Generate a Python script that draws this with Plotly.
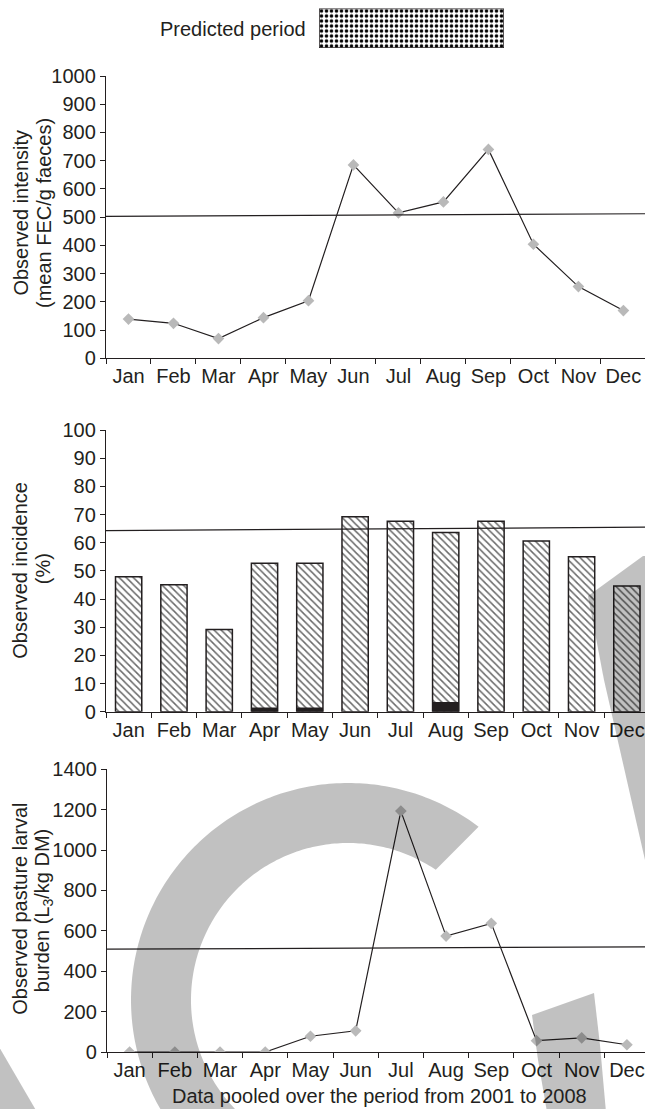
import numpy as np
import plotly.graph_objects as go

# ---- data -------------------------------------------------------------
months = ["Jan", "Feb", "Mar", "Apr", "May", "Jun",
          "Jul", "Aug", "Sep", "Oct", "Nov", "Dec"]

# mean faecal egg count (FEC/g faeces)
intensity = [139, 124, 70, 144, 204, 685, 515, 554, 740, 404, 254, 169]
intensity_threshold = [503, 512]          # left end, right end

# incidence (%) : total bar height and the solid bottom part
incidence = [47.9, 45.1, 29.2, 52.7, 52.7, 69.2, 67.6, 63.6, 67.6, 60.6, 55.0, 44.6]
incidence_solid = [0, 0, 0, 1.5, 1.5, 0, 0, 3.4, 0, 0, 0, 0]
incidence_threshold = [64.3, 65.5]

# pasture larval burden (L3/kg DM)
larval = [0, 0, 0, 0, 78, 105, 1193, 574, 637, 56, 70, 36]
larval_threshold = [509, 521]

legend_label = "Predicted period"
x_title = "Data pooled over the period from 2001 to 2008"

# ---- page geometry ----------------------------------------------------
W, H = 645, 1109
INK = "#231f20"
FONT = "Liberation Sans, Arial, Helvetica, sans-serif"
FS = 20


def fx(px):
    return px / W


def fy(py):
    return 1 - py / H


def pt(x, y):
    return f"{fx(x):.5f},{fy(y):.5f}"


fig = go.Figure()

line_style = dict(color=INK, width=1.2)
marker_style = dict(symbol="diamond", size=9, color="#b9b9b9", line=dict(width=0))

fig.add_trace(go.Scatter(x=months, y=intensity, mode="lines+markers",
                         line=line_style, marker=marker_style,
                         xaxis="x", yaxis="y", showlegend=False))

fig.add_trace(go.Bar(x=months, y=incidence, xaxis="x2", yaxis="y2",
                     marker=dict(color="white",
                                 line=dict(color=INK, width=1.5),
                                 pattern=dict(shape="\\", fillmode="replace",
                                              fgcolor="#6a6a6a", bgcolor="white",
                                              size=5, solidity=0.3)),
                     showlegend=False))
fig.add_trace(go.Bar(x=months, y=incidence_solid, xaxis="x2", yaxis="y2",
                     marker=dict(color=INK, line=dict(width=0)),
                     showlegend=False))

fig.add_trace(go.Scatter(x=months, y=larval, mode="lines+markers",
                         line=line_style, marker=marker_style,
                         xaxis="x3", yaxis="y3", showlegend=False))

# legend swatch for the predicted period
fig.add_trace(go.Bar(x=[0], y=[1], width=[1], xaxis="x4", yaxis="y4",
                     name=legend_label, showlegend=False,
                     marker=dict(color="white",
                                 line=dict(color=INK, width=1.5),
                                 pattern=dict(shape=".", fillmode="replace",
                                              fgcolor="black", bgcolor="white",
                                              size=5, solidity=0.4))))

tickfont = dict(family=FONT, size=FS, color=INK)


def xaxis_cfg(domain, anchor, rng):
    return dict(domain=domain, anchor=anchor, type="category",
                categoryorder="array", categoryarray=months,
                range=rng, showline=True, linecolor=INK, linewidth=1.3,
                ticks="outside", tickson="boundaries", ticklen=5,
                tickcolor=INK, tickwidth=1.2, showgrid=False, zeroline=False,
                tickangle=0, tickfont=tickfont, fixedrange=True)


def yaxis_cfg(domain, anchor, rng, dtick):
    return dict(domain=domain, anchor=anchor, range=rng, dtick=dtick, tick0=0,
                showline=True, linecolor=INK, linewidth=1.3,
                ticks="outside", ticklen=5, tickcolor=INK, tickwidth=1.2,
                showgrid=False, zeroline=False, tickfont=tickfont,
                fixedrange=True)


fig.update_layout(
    width=W, height=H,
    margin=dict(l=0, r=0, t=0, b=0, pad=0, autoexpand=False),
    paper_bgcolor="white", plot_bgcolor="rgba(0,0,0,0)",
    barmode="overlay", bargap=0.42,
    font=dict(family=FONT, size=FS, color=INK),
    xaxis=xaxis_cfg([fx(106), 1], "y", [-0.5, 11.48]),
    yaxis=yaxis_cfg([fy(358.3), fy(76)], "x", [0, 1000], 100),
    xaxis2=xaxis_cfg([fx(106), 1], "y2", [-0.5, 11.4]),
    yaxis2=yaxis_cfg([fy(711.7), fy(430)], "x2", [0, 100], 10),
    xaxis3=xaxis_cfg([fx(107), 1], "y3", [-0.5, 11.4]),
    yaxis3=yaxis_cfg([fy(1052), fy(769.3)], "x3", [0, 1400], 200),
    xaxis4=dict(domain=[fx(319), fx(504)], anchor="y4", range=[-0.5, 0.5],
                visible=False, fixedrange=True),
    yaxis4=dict(domain=[fy(48), fy(8.5)], anchor="x4", range=[0, 1],
                visible=False, fixedrange=True),
)

# threshold lines
shapes = []
for yref, xref, thr in (("y", "x domain", intensity_threshold),
                        ("y2", "x2 domain", incidence_threshold),
                        ("y3", "x3 domain", larval_threshold)):
    shapes.append(dict(type="line", xref=xref, yref=yref,
                       x0=0, x1=1, y0=thr[0], y1=thr[1],
                       line=dict(color=INK, width=1.2)))

# grey watermark strokes drawn over the page
wm = dict(type="path", xref="paper", yref="paper", layer="above",
          fillcolor="rgba(0,0,0,0.245)", line=dict(width=0))

cx, cy, r_out, r_in = 348, 1000, 217, 157
outer = [pt(cx + r_out * np.cos(np.radians(a)), cy - r_out * np.sin(np.radians(a)))
         for a in np.arange(53, 236, 1.0)]
inner = [pt(cx + r_in * np.cos(np.radians(a)), cy - r_in * np.sin(np.radians(a)))
         for a in np.arange(235, 55, -1.0)]
arc_path = "M " + " L ".join(outer + inner) + " Z"
shapes.append(dict(wm, path=arc_path))


def poly(points):
    return "M " + " L ".join(pt(x, y) for x, y in points) + " Z"


shapes.append(dict(wm, path=poly([(588, 596), (643, 556), (647, 556),
                                  (647, 862), (645, 860), (604, 680)])))
shapes.append(dict(wm, path=poly([(532, 1015), (594, 993), (600, 1045),
                                  (606, 1112), (547, 1112), (538, 1060)])))
shapes.append(dict(wm, path=poly([(-2, 1045), (-2, 1112), (37, 1112)])))

fig.update_layout(shapes=shapes)

# axis titles and legend text
ann_font = dict(family=FONT, size=FS, color=INK)
annotations = [
    dict(text=legend_label, x=fx(308), y=fy(29), xanchor="right", yanchor="middle"),
    dict(text="Observed intensity", x=fx(20.6), y=fy(213), textangle=-90),
    dict(text="(mean FEC/g faeces)", x=fx(44), y=fy(213), textangle=-90),
    dict(text="Observed incidence", x=fx(19.8), y=fy(570), textangle=-90),
    dict(text="(%)", x=fx(43.2), y=fy(569), textangle=-90),
    dict(text="Observed pasture larval", x=fx(19.8), y=fy(909), textangle=-90),
    dict(text="burden (L<sub>3</sub>/kg DM)", x=fx(43.2), y=fy(911), textangle=-90),
    dict(text=x_title, x=fx(379.6), y=fy(1096)),
]
for a in annotations:
    a.setdefault("xanchor", "center")
    a.setdefault("yanchor", "middle")
    a.update(xref="paper", yref="paper", showarrow=False, font=ann_font)
fig.update_layout(annotations=annotations)

# pin the figure to the window origin, without page margins or scrolling
page_js = (
    "document.documentElement.style.margin='0';"
    "document.documentElement.style.overflow='hidden';"
    "document.body.style.margin='0';"
    "document.body.style.overflow='hidden';"
    "var g=document.getElementById('{plot_id}');"
    "g.style.position='fixed';g.style.left='0px';g.style.top='0px';"
)
fig.write_html("out.html", post_script=page_js)
